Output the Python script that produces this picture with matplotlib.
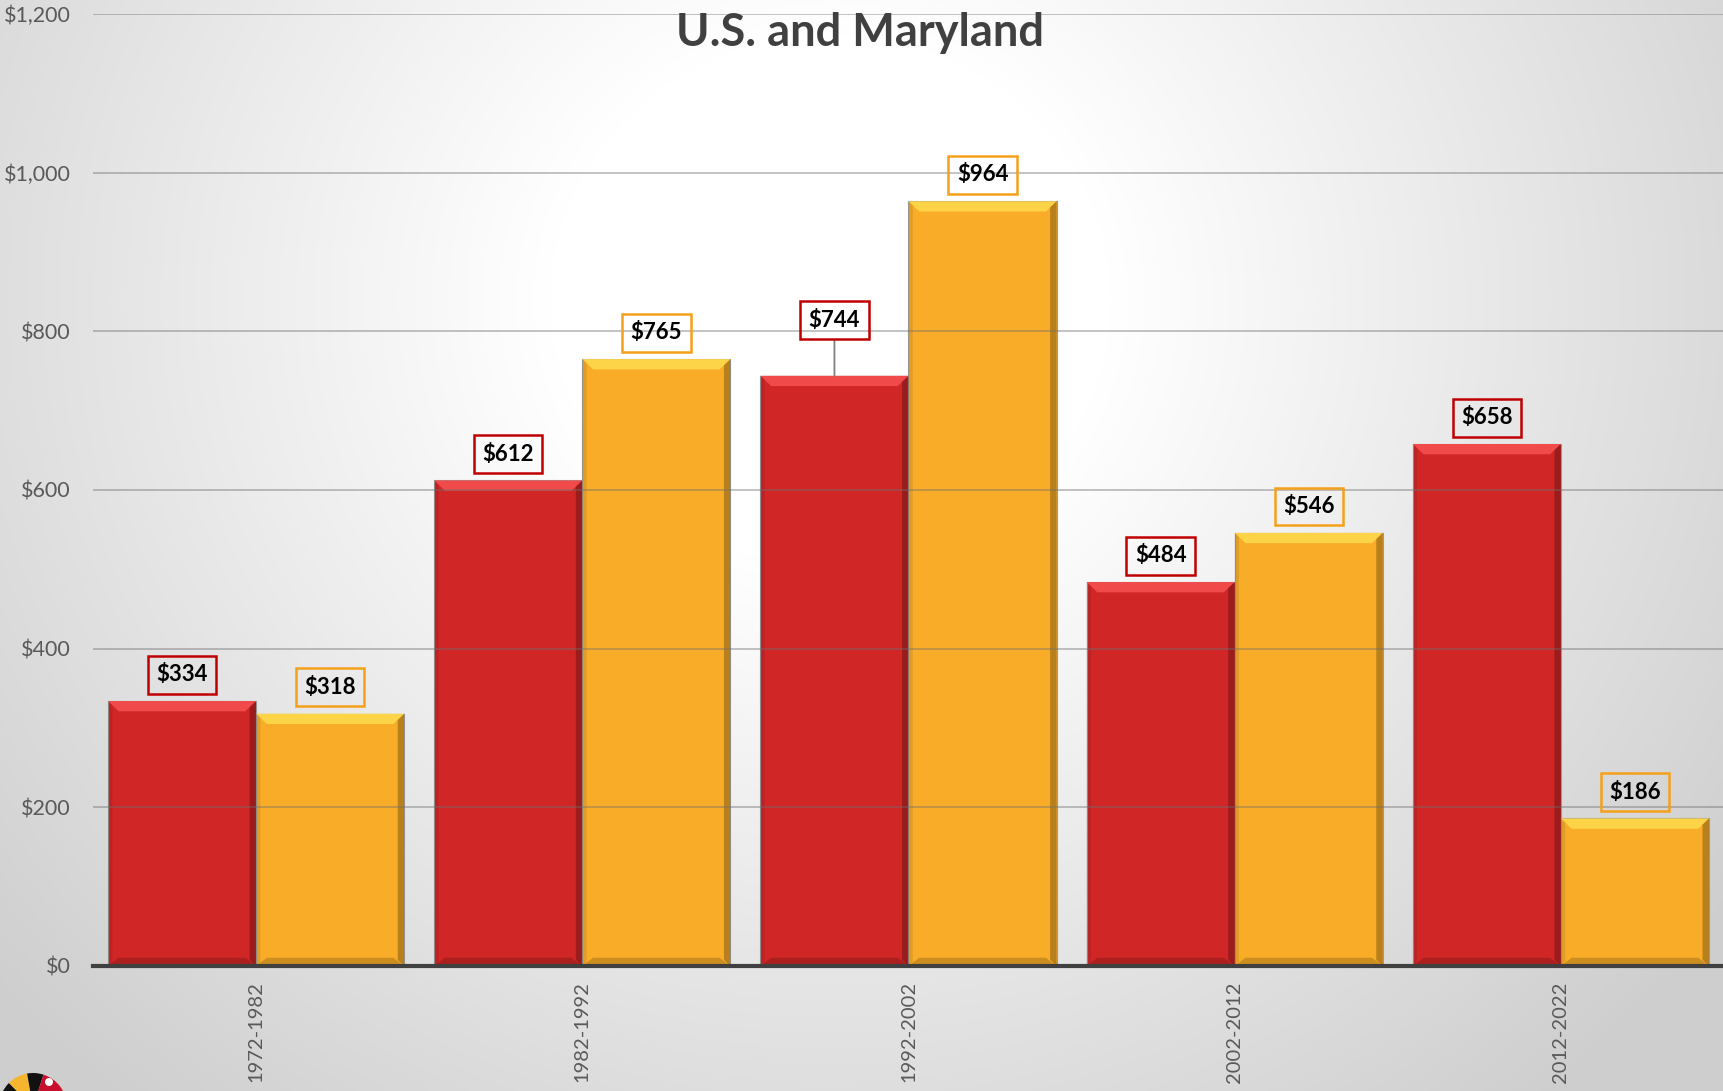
import numpy as np
import matplotlib
matplotlib.use("Agg")
import matplotlib.pyplot as plt
from matplotlib.patches import Polygon, Wedge, Circle

# ---- data ----
categories = ["1972-1982", "1982-1992", "1992-2002", "2002-2012", "2012-2022"]
us_values = [334, 612, 744, 484, 658]
md_values = [318, 765, 964, 546, 186]
y_ticks = [0, 200, 400, 600, 800, 1000, 1200]
y_tick_labels = ["$0", "$200", "$400", "$600", "$800", "$1,000", "$1,200"]
title = "U.S. and Maryland"

plt.rcParams['font.family'] = ['Lato', 'DejaVu Sans']

W, H = 1724, 1091
fig = plt.figure(figsize=(W / 100, H / 100), dpi=100)

# ---- background radial gradient ----
bg = fig.add_axes([0, 0, 1, 1], zorder=0)
yy, xx = np.mgrid[0:H, 0:W]
r = np.sqrt(((xx - 830) / 1.0) ** 2 + ((yy - 300) / 0.95) ** 2)
val = 1 - 0.19 * np.clip((r - 280) / 820, 0, 1)
bg.imshow(np.dstack([val, val, val]), extent=[0, W, H, 0], aspect='auto')
bg.set_xlim(0, W)
bg.set_ylim(H, 0)
bg.axis('off')

# Maryland flag logo (partially visible at bottom-left)
cx, cy, cr = 33, 1107, 34
for a0, a1, c in [(135, 180, '#111111'), (100, 135, '#F6B52E'), (72, 100, '#111111'),
                  (0, 72, '#C8102E')]:
    bg.add_patch(Wedge((cx, cy), cr, -a1, -a0, facecolor=c, edgecolor='none', zorder=2))
bg.add_patch(Circle((cx + 16, cy - 25), 4, facecolor='white', edgecolor='none', zorder=3))

# ---- main axes ----
ax = fig.add_axes([93 / W, 1 - 966 / H, 1 - 93 / W, (966 - 14) / H], zorder=1)
ax.set_facecolor('none')
ax.set_xlim(-0.5, len(categories) - 0.5)
ax.set_ylim(0, 1200)

x = np.arange(len(categories))
bw = 0.454
red, red_top, red_dark = '#D02626', '#F04A4A', '#5a1010'
yel, yel_top, yel_dark = '#F8AC28', '#FDD448', '#6a4a10'

bars_us = ax.bar(x - bw / 2, us_values, width=bw, color=red, edgecolor='#9a9a9a',
                 linewidth=0.8, zorder=2)
bars_md = ax.bar(x + bw / 2, md_values, width=bw, color=yel, edgecolor='#9a9a9a',
                 linewidth=0.8, zorder=2)

bx, by = 0.033, 13


def bevel(bar, top, dark):
    x0, w, h = bar.get_x(), bar.get_width(), bar.get_height()
    x1 = x0 + w
    # top bevel
    ax.add_patch(Polygon([(x0, h), (x1, h), (x1 - bx, h - by), (x0 + bx, h - by)],
                         closed=True, facecolor=top, edgecolor='none', zorder=3))
    # right bevel (shadow)
    ax.add_patch(Polygon([(x1, h), (x1, 0), (x1 - bx * 0.6, by * 0.6), (x1 - bx * 0.6, h - by * 0.6)],
                         closed=True, facecolor=dark, edgecolor='none', alpha=0.45, zorder=3))
    # bottom bevel
    ax.add_patch(Polygon([(x0, 0), (x1, 0), (x1 - bx, by * 0.8), (x0 + bx, by * 0.8)],
                         closed=True, facecolor=dark, edgecolor='none', alpha=0.3, zorder=3))
    # left bevel
    ax.add_patch(Polygon([(x0, 0), (x0, h), (x0 + bx * 0.4, h - by * 0.4), (x0 + bx * 0.4, by * 0.4)],
                         closed=True, facecolor=dark, edgecolor='none', alpha=0.15, zorder=3))


for b in bars_us:
    bevel(b, red_top, red_dark)
for b in bars_md:
    bevel(b, yel_top, yel_dark)

# gridlines (drawn over bars, semi-transparent)
for t in y_ticks[1:]:
    ax.axhline(t, color='#6f6f6f', alpha=0.45, linewidth=1.3, zorder=4)

# axis styling
for s in ['top', 'right', 'left']:
    ax.spines[s].set_visible(False)
ax.spines['bottom'].set_color('#404040')
ax.spines['bottom'].set_linewidth(3)
ax.spines['bottom'].set_zorder(5)

ax.set_yticks(y_ticks)
ax.set_yticklabels(y_tick_labels, fontsize=15.5, color='#595959')
ax.tick_params(axis='y', length=0, pad=16)
ax.set_xticks(x)
ax.set_xticklabels(categories, rotation=90, fontsize=14.5, color='#595959', va='top', ha='center')
ax.tick_params(axis='x', length=0, pad=11)


# data labels
def label(bars, vals, ec, raised=None):
    for i, (b, v) in enumerate(zip(bars, vals)):
        cxp = b.get_x() + b.get_width() / 2
        off = 19
        arrow = None
        if raised is not None and i == raised:
            off = 40
            arrow = dict(arrowstyle='-', color='#808080', linewidth=1.3, shrinkA=0, shrinkB=0)
        ax.annotate(f"${v:,}", xy=(cxp, v), xytext=(0, off), textcoords='offset points',
                    ha='center', va='center', fontsize=16, fontweight='bold', color='black',
                    bbox=dict(boxstyle='square,pad=0.38', facecolor='none', edgecolor=ec,
                              linewidth=1.8), arrowprops=arrow, zorder=6)


label(bars_us, us_values, '#C00000', raised=2)
label(bars_md, md_values, '#F5A01A')

fig.text(860 / W, 1 - 33 / H, title, ha='center', va='center', fontsize=32.5,
         fontweight='bold', color='#404040', zorder=10)

fig.savefig('out.png', dpi=100)
